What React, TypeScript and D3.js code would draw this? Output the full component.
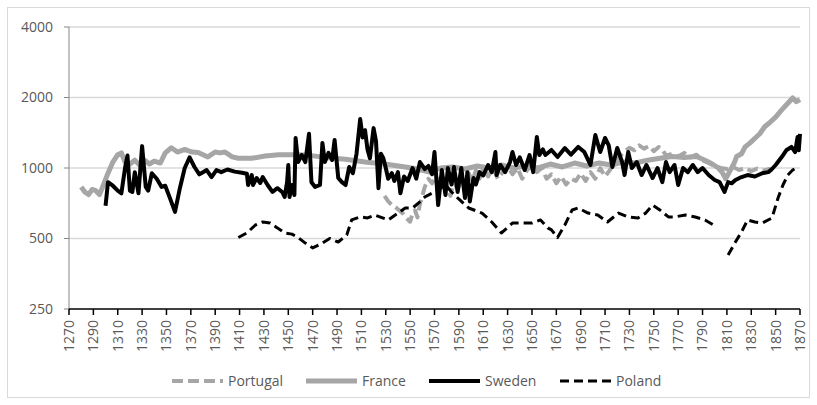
import React from 'react'
import { scaleLinear, scaleLog, line, range } from 'd3'

type Pt = [number, number | null]

// tick values
const yTicks = [250, 500, 1000, 2000, 4000]
const xTicks = range(1270, 1871, 20)

// series: [year, value]
const portugal: Pt[] = [
    [1529, 760], [1532, 720], [1535, 695], [1538, 680], [1541, 660], [1544, 640], [1547, 610], [1550, 590],
    [1552, 640], [1554, 660], [1556, 615], [1558, 700], [1560, 760], [1562, 830], [1565, 900], [1568, 860],
    [1571, 920], [1574, 870], [1577, 930], [1580, 850], [1583, 760], [1586, 880], [1589, 800], [1592, 900],
    [1595, 820], [1598, 950], [1601, 880], [1604, 980], [1607, 900], [1610, 1000], [1614, 920], [1618, 1000],
    [1622, 900], [1626, 960], [1630, 1020], [1634, 940], [1638, 1000], [1642, 900], [1646, 980], [1650, 1030],
    [1654, 960], [1658, 1000], [1662, 900], [1666, 940], [1670, 860], [1674, 920], [1678, 850], [1682, 900],
    [1686, 880], [1690, 950], [1694, 880], [1698, 960], [1702, 900], [1706, 1000], [1710, 920], [1714, 980],
    [1718, 1060], [1722, 1120], [1726, 1180], [1730, 1220], [1734, 1190], [1738, 1250], [1742, 1210],
    [1746, 1240], [1750, 1180], [1754, 1230], [1757, 1200], [1760, 1130], [1765, 1150], [1770, 1120],
    [1775, 1160], [1780, 1110], [1785, 1140], [1790, 1080], [1795, 1050], [1800, 1020], [1805, 1000],
    [1810, 990], [1815, 1010], [1820, 980], [1825, 1000], [1830, 970], [1835, 995], [1840, 975], [1845, 990],
    [1851, 960],
]

const france: Pt[] = [
    [1280, 830], [1283, 790], [1286, 770], [1289, 810], [1292, 800], [1295, 770], [1298, 840], [1302, 950],
    [1306, 1060], [1310, 1140], [1313, 1160], [1316, 1060], [1320, 1040], [1324, 1080], [1328, 1030],
    [1332, 1080], [1336, 1040], [1340, 1070], [1345, 1050], [1349, 1160], [1354, 1220], [1359, 1170],
    [1365, 1200], [1371, 1170], [1376, 1165], [1384, 1115], [1390, 1170], [1394, 1160], [1398, 1170],
    [1404, 1115], [1409, 1100], [1420, 1100], [1431, 1125], [1442, 1140], [1453, 1140], [1466, 1135],
    [1480, 1110], [1497, 1090], [1513, 1060], [1529, 1040], [1546, 1010], [1556, 990], [1566, 960],
    [1575, 1000], [1585, 1010], [1595, 990], [1605, 1020], [1615, 1000], [1625, 1030], [1635, 1000],
    [1645, 1020], [1655, 1000], [1665, 1040], [1675, 1010], [1685, 1050], [1695, 1020], [1705, 1050],
    [1715, 1030], [1725, 1060], [1735, 1050], [1745, 1080], [1755, 1100], [1765, 1120], [1775, 1110],
    [1785, 1120], [1792, 1080], [1798, 1040], [1803, 1000], [1806, 960], [1809, 900], [1812, 960],
    [1816, 1050], [1818, 1120], [1822, 1150], [1825, 1230], [1829, 1280], [1833, 1340], [1837, 1400],
    [1841, 1500], [1845, 1560], [1850, 1650], [1855, 1770], [1860, 1890], [1864, 1990], [1867, 1920],
    [1870, 1960],
]

const sweden: Pt[] = [
    [1300, 690], [1302, 870], [1306, 840], [1310, 800], [1313, 780], [1316, 1000], [1318, 1130], [1320, 800],
    [1322, 790], [1324, 960], [1327, 780], [1330, 1240], [1333, 830], [1335, 800], [1338, 950], [1342, 900],
    [1346, 830], [1349, 840], [1353, 740], [1357, 650], [1361, 820], [1365, 1000], [1369, 1110], [1373, 1010],
    [1377, 940], [1380, 960], [1383, 980], [1387, 915], [1391, 980], [1395, 960], [1400, 985], [1406, 965],
    [1412, 955], [1416, 945], [1417, 846], [1420, 933], [1421, 846], [1424, 906], [1427, 863], [1429, 915],
    [1433, 846], [1437, 790], [1441, 820], [1445, 790], [1447, 752], [1449, 870], [1450, 1030], [1451, 752],
    [1453, 846], [1455, 767], [1456, 1343], [1458, 1060], [1461, 1136], [1464, 1060], [1467, 1400],
    [1469, 870], [1472, 830], [1476, 846], [1478, 1280], [1480, 1060], [1483, 1160], [1486, 1082],
    [1488, 1317], [1491, 906], [1494, 870], [1497, 846], [1500, 1010], [1503, 950], [1506, 1150],
    [1509, 1620], [1511, 1350], [1513, 1450], [1515, 1200], [1517, 1100], [1520, 1480], [1522, 1300],
    [1524, 820], [1526, 1150], [1528, 1100], [1530, 1000], [1532, 900], [1535, 950], [1537, 880],
    [1540, 960], [1542, 780], [1545, 920], [1548, 880], [1552, 1000], [1555, 900], [1558, 1060],
    [1562, 990], [1565, 1020], [1568, 940], [1570, 1170], [1573, 695], [1576, 980], [1579, 767],
    [1581, 1000], [1584, 850], [1586, 1010], [1589, 790], [1592, 1000], [1595, 745], [1597, 960],
    [1599, 720], [1602, 906], [1604, 850], [1607, 960], [1610, 930], [1614, 1030], [1617, 960],
    [1620, 1170], [1621, 933], [1624, 1030], [1628, 960], [1632, 1060], [1634, 1170], [1637, 1030],
    [1640, 1110], [1644, 980], [1648, 1136], [1651, 960], [1654, 1357], [1656, 1136], [1659, 1200],
    [1661, 1136], [1666, 1194], [1671, 1114], [1677, 1217], [1682, 1140], [1688, 1230], [1693, 1170],
    [1698, 1030], [1702, 1383], [1706, 1170], [1710, 1343], [1713, 1250], [1716, 1010], [1720, 1217],
    [1724, 1060], [1726, 933], [1729, 1170], [1732, 1000], [1736, 1060], [1740, 933], [1744, 1030],
    [1749, 906], [1753, 1000], [1757, 870], [1760, 1060], [1763, 960], [1767, 1030], [1770, 846],
    [1774, 1000], [1778, 960], [1782, 1030], [1786, 960], [1790, 1000], [1795, 933], [1800, 889],
    [1804, 870], [1808, 790], [1811, 870], [1814, 860], [1817, 889], [1822, 915], [1827, 933],
    [1833, 920], [1839, 950], [1844, 960], [1847, 990], [1850, 1030], [1855, 1114], [1859, 1194],
    [1863, 1230], [1866, 1170], [1868, 1357], [1869, 1190], [1870, 1400],
]

const poland: Pt[] = [
    [1409, 505], [1416, 528], [1423, 571], [1429, 588], [1435, 582], [1441, 555], [1447, 528], [1453, 522],
    [1458, 505], [1464, 478], [1470, 456], [1478, 478], [1484, 500], [1491, 483], [1498, 518], [1502, 600],
    [1509, 618], [1515, 612], [1521, 630], [1532, 600], [1540, 642], [1546, 675], [1552, 675], [1558, 717],
    [1562, 752], [1570, 790], [1579, 846], [1584, 790], [1589, 745], [1598, 675], [1609, 642], [1617, 588],
    [1625, 528], [1634, 582], [1642, 582], [1650, 582], [1657, 600], [1663, 555], [1666, 544], [1671, 505],
    [1677, 571], [1683, 662], [1688, 675], [1696, 642], [1704, 630], [1712, 588], [1721, 642], [1729, 618],
    [1737, 612], [1743, 640], [1749, 695], [1755, 662], [1762, 618], [1767, 618], [1776, 630], [1784, 618],
    [1792, 600], [1799, 571], [1805, null], [1811, 425], [1817, 483], [1822, 533], [1827, 600], [1833, 588],
    [1839, 582], [1847, 612], [1852, 745], [1856, 846], [1860, 933], [1864, 980], [1868, 1010],
]

const legendItems = [
    { name: 'Portugal', color: '#a6a6a6', width: 4, dash: '11,5' },
    { name: 'France', color: '#a6a6a6', width: 5, dash: null },
    { name: 'Sweden', color: '#000000', width: 4, dash: null },
    { name: 'Poland', color: '#000000', width: 3, dash: '9,5' },
]

const seriesData = [portugal, france, sweden, poland]

export default function App() {
    const width = 817
    const height = 405
    const margin = { top: 27, right: 17, bottom: 96, left: 69 }

    const x = scaleLinear()
        .domain([1270, 1870])
        .range([margin.left, width - margin.right])

    const y = scaleLog()
        .base(2)
        .domain([250, 4000])
        .range([height - margin.bottom, margin.top])

    const getLine = line<Pt>()
        .defined(d => d[1] !== null)
        .x(d => x(d[0]))
        .y(d => y(d[1] as number))

    const font = '"Open Sans", sans-serif'
    const legendX = [172, 306, 429, 560]

    return (
        <svg width={width} height={height} style={{ position: 'fixed', top: 0, left: 0, background: '#fff' }}>
            <rect x={7.5} y={7.5} width={802} height={390} fill="#fff" stroke="#d9d9d9" />

            {/* grid */}
            {yTicks.slice(1).map(t => (
                <line key={t} x1={x(1270)} x2={x(1870)} y1={y(t)} y2={y(t)} stroke="#d9d9d9" strokeWidth={1.5} />
            ))}

            {/* y axis */}
            <line x1={x(1270)} x2={x(1270)} y1={y(4000)} y2={y(250)} stroke="#868686" />
            {yTicks.map(t => (
                <g key={t}>
                    <line x1={x(1270) - 5} x2={x(1270)} y1={y(t)} y2={y(t)} stroke="#868686" />
                    <text x={53} y={y(t)} dy="0.35em" textAnchor="end" fontSize={14} fill="#595959" fontFamily={font}>{t}</text>
                </g>
            ))}

            {/* series */}
            {seriesData.map((d, i) => (
                <path key={i} d={getLine(d) || ''} fill="none" stroke={legendItems[i].color}
                    strokeWidth={legendItems[i].width} strokeDasharray={legendItems[i].dash || undefined}
                    strokeLinejoin="round" />
            ))}

            {/* x axis */}
            <line x1={x(1270)} x2={x(1870)} y1={y(250)} y2={y(250)} stroke="#000" strokeWidth={1.5} />
            {xTicks.map(t => (
                <g key={t} transform={`translate(${x(t)},${y(250)})`}>
                    <line y1={0} y2={6} stroke="#000" strokeWidth={1.5} />
                    <text transform="rotate(-90)" x={-11} dy="0.35em" textAnchor="end" fontSize={14} fill="#595959" fontFamily={font}>{t}</text>
                </g>
            ))}

            {/* legend */}
            {legendItems.map((l, i) => (
                <g key={l.name} transform={`translate(${legendX[i]},381)`}>
                    <line x1={0} x2={51} stroke={l.color} strokeWidth={l.width} strokeDasharray={l.dash || undefined} />
                    <text x={56} dy="0.35em" fontSize={14} fill="#595959" fontFamily={font}>{l.name}</text>
                </g>
            ))}
        </svg>
    )
}
